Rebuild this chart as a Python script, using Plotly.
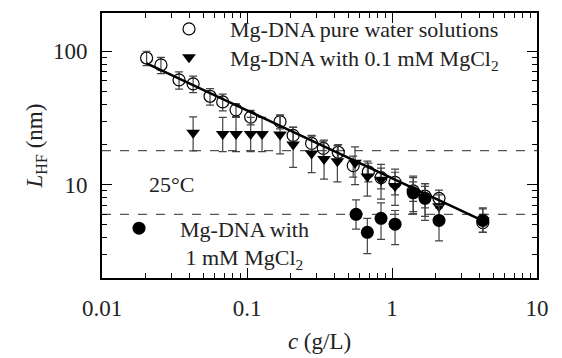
import plotly.graph_objects as go

# ---------------- data ----------------
# Mg-DNA pure water solutions (open circles)
c_water = [0.0203, 0.0255, 0.034, 0.0425, 0.0556, 0.068, 0.084, 0.106, 0.169, 0.208,
           0.279, 0.336, 0.426, 0.54, 0.687, 0.84, 1.05, 1.40, 1.69, 2.11, 4.23]
L_water = [89, 79, 61, 57, 46, 41.7, 36.4, 32.1, 29.7, 23.4,
           20.4, 18.7, 17.5, 13.9, 12.5, 11.3, 10.4, 9.0, 8.2, 7.9, 5.2]
err_water = [11, 11, 9, 8, 6.5, 6, 4, 4, 3.5, 3.5,
             3, 2.5, 2.5, 2.5, 2, 2, 2, 1.5, 1.5, 1.2, 0.8]

# Mg-DNA with 0.1 mM MgCl2 (filled down-triangles)
c_mg01 = [0.0425, 0.068, 0.084, 0.106, 0.127, 0.169, 0.208, 0.279, 0.340, 0.42,
          0.556, 0.676, 0.84, 1.05, 1.40, 1.69, 2.11, 4.23]
L_mg01 = [24.5, 24, 24, 24, 24, 23.8, 20.0, 17.1, 15.6, 15.0,
          14.6, 11.5, 10.9, 9.8, 8.8, 8.0, 6.9, 5.4]
errp_mg01 = [7.7, 8, 8, 8, 8, 9.5, 7, 6, 6, 4.6, 4.6, 3.5, 3.3, 3.3, 2.5, 2.2, 1.5, 1.2]
errm_mg01 = [6.6, 6.3, 6.3, 6.3, 6.3, 6.8, 6.5, 4.8, 4.6, 4.5, 4.6, 3.3, 3.1, 2.8, 2.5, 2.2, 1.5, 1.0]

# Mg-DNA with 1 mM MgCl2 (filled circles)
c_mg1 = [0.565, 0.676, 0.84, 1.05, 1.40, 1.69, 2.11, 4.23]
L_mg1 = [6.0, 4.4, 5.6, 5.06, 8.7, 7.9, 5.4, 5.4]
errp_mg1 = [1.7, 1.2, 1.7, 1.35, 2.9, 2.3, 1.6, 1.3]
errm_mg1 = [1.35, 1.35, 1.7, 1.5, 2.6, 2.5, 1.6, 1.0]

# power-law fit line (end points)
c_fit = [0.0203, 4.25]
L_fit = [81, 5.35]

# horizontal dashed reference levels
ref_levels = [18, 6]

FONT = "Liberation Serif"
TXT = "#222"
ERRC = "#444"

fig = go.Figure()

fig.add_trace(go.Scatter(
    x=c_water, y=L_water, mode="markers",
    name="Mg-DNA pure water solutions", legend="legend",
    marker=dict(symbol="circle-open", size=12, color="black", line=dict(width=1.2)),
    error_y=dict(type="data", array=err_water, color=ERRC, thickness=1.2, width=4),
))
fig.add_trace(go.Scatter(
    x=c_mg01, y=L_mg01, mode="markers",
    name="Mg-DNA with 0.1 mM MgCl<sub>2</sub>", legend="legend3",
    marker=dict(symbol="triangle-down", size=12, color="black"),
    error_y=dict(type="data", symmetric=False, array=errp_mg01, arrayminus=errm_mg01,
                 color=ERRC, thickness=1.2, width=4),
))
fig.add_trace(go.Scatter(
    x=c_fit, y=L_fit, mode="lines", showlegend=False,
    line=dict(color="black", width=2.5),
))
fig.add_trace(go.Scatter(
    x=c_mg1, y=L_mg1, mode="markers",
    name="Mg-DNA with<br>\u00a01 mM MgCl<sub>2</sub>", legend="legend2",
    marker=dict(symbol="circle", size=13, color="black"),
    error_y=dict(type="data", symmetric=False, array=errp_mg1, arrayminus=errm_mg1,
                 color=ERRC, thickness=1.2, width=4),
))

for lv in ref_levels:
    fig.add_shape(type="line", xref="x domain", yref="y", x0=0, x1=1, y0=lv, y1=lv,
                  line=dict(color="#555", width=1.2, dash="dash"), layer="below")

# page offsets: the page body adds 8px; plot area on page spans x 102..537, y 8..278
PL, PB, PW, PH = 102, 278, 435, 270


def px(xp):
    return (xp - PL) / PW


def py(yp):
    return (PB - yp) / PH


fig.add_annotation(text="25°C", xref="paper", yref="paper",
                   x=px(171), y=py(183), xanchor="center", yanchor="middle",
                   showarrow=False, font=dict(family=FONT, size=22, color=TXT))

axis_common = dict(
    type="log", showline=True, linecolor="black", linewidth=1.6, mirror="ticks",
    ticks="inside", ticklen=10, tickwidth=1.2, tickcolor="black", dtick=1,
    showgrid=False, zeroline=False,
    tickfont=dict(family=FONT, size=23, color=TXT),
    minor=dict(ticks="inside", ticklen=5, tickwidth=1, tickcolor="black", dtick="D1", showgrid=False),
)

leg_common = dict(xanchor="left", yanchor="top", bgcolor="rgba(0,0,0,0)", itemwidth=72,
                  font=dict(family=FONT, size=22, color=TXT))

fig.update_layout(
    width=554, height=350,
    margin=dict(l=94, r=25, t=0, b=80),
    paper_bgcolor="white", plot_bgcolor="white",
    font=dict(family=FONT, size=22, color=TXT),
    xaxis=dict(axis_common, range=[-2, 1], ticklabelstandoff=9,
               title=dict(text="<i>c</i> (g/L)", font=dict(family=FONT, size=23, color=TXT), standoff=12)),
    yaxis=dict(axis_common, range=[0.30103, 2.28648], ticklabelstandoff=8,
               title=dict(text="<i>L</i><sub>HF</sub> (nm)", font=dict(family=FONT, size=23, color=TXT), standoff=4)),
    legend=dict(leg_common, x=px(148), y=py(3)),
    legend3=dict(leg_common, x=px(148), y=py(32)),
    legend2=dict(leg_common, x=px(98), y=py(206), valign="top"),
)

fig.write_html("out.html")
